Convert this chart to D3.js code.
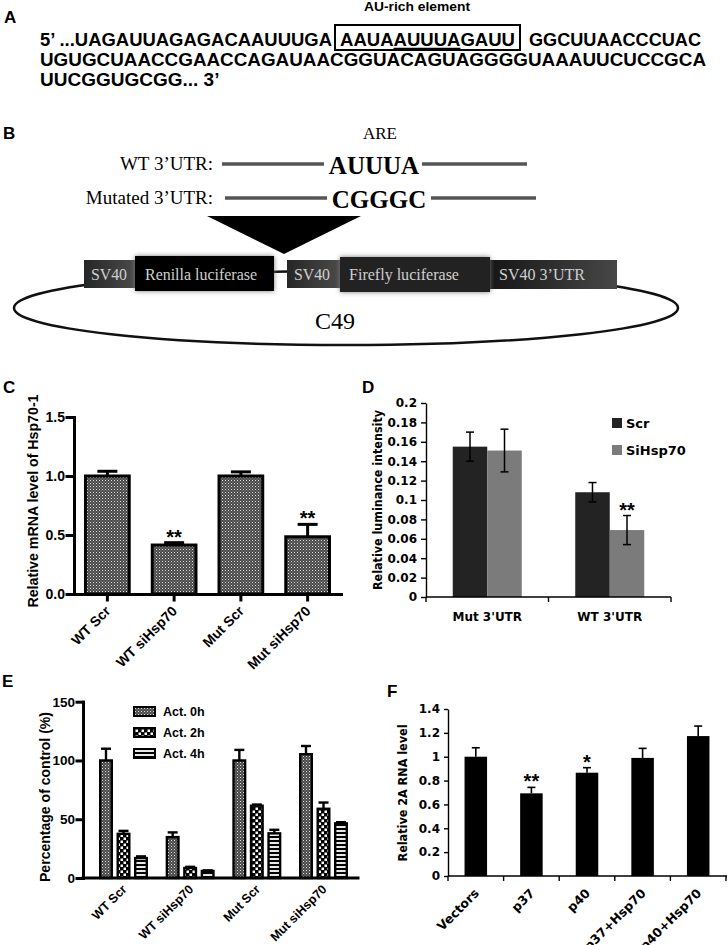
<!DOCTYPE html>
<html>
<head>
<meta charset="utf-8">
<script src="https://d3js.org/d3.v7.min.js"></script>
<style>
body { margin: 0; background: #fff; }
svg text { font-family: "Liberation Sans", Arial, sans-serif; fill: #000; }
.serif { font-family: "Liberation Serif", "Times New Roman", serif !important; }
.panel { font-weight: bold; font-size: 17px; }
.prism path, .prism line { stroke: #000; stroke-width: 3; stroke-linecap: square; }
.prism text { font-weight: bold; font-size: 14px; }
.excel path, .excel line { stroke: #000; stroke-width: 1.4; }
.excel text, text.xl { font-family: "DejaVu Sans", Verdana, sans-serif !important; font-weight: bold; font-size: 12px; }
</style>
</head>
<body>
<svg id="fig" width="727" height="945"></svg>
<script>
// ---- A: sequence ----
var seqRow1 = ["5\u2019 ...UAGAUUAGAGACAAUUUGA", "AAUAAUUUAGAUU", "GGCUUAACCCUAC"];
var seqRow2 = "UGUGCUAACCGAACCAGAUAACGGUACAGUAGGGGUAAAUUCUCCGCA";
var seqRow3 = "UUCGGUGCGG... 3\u2019";

// ---- B: construct ----
var constructParts = ["SV40", "Renilla luciferase", "SV40", "Firefly luciferase", "SV40 3\u2019UTR"];

// ---- C: Hsp70-1 mRNA ----
var cCategories = ["WT Scr", "WT siHsp70", "Mut Scr", "Mut siHsp70"];
var cValues = [1.0, 0.415, 1.0, 0.485];
var cErrors = [0.04, 0.02, 0.035, 0.105];
var cSig = ["", "**", "", "**"];
var cTicks = [0, 0.5, 1.0, 1.5];

// ---- D: luminance ----
var dCategories = ["Mut 3'UTR", "WT 3'UTR"];
var dSeries = ["Scr", "SiHsp70"];
var dScr = [0.155, 0.108];
var dScrErr = [0.015, 0.01];
var dSi = [0.151, 0.069];
var dSiErr = [0.022, 0.015];
var dSig = ["", "**"];
var dTicks = [0, 0.02, 0.04, 0.06, 0.08, 0.1, 0.12, 0.14, 0.16, 0.18, 0.2];

// ---- E: actinomycin ----
var eCategories = ["WT Scr", "WT siHsp70", "Mut Scr", "Mut siHsp70"];
var eSeries = ["Act. 0h", "Act. 2h", "Act. 4h"];
var e0h = [100, 34.8, 100, 105.3];
var e0hErr = [10, 4, 9, 7];
var e2h = [37.6, 8.5, 61.5, 58.9];
var e2hErr = [2.5, 1, 1, 5.3];
var e4h = [17, 6, 38, 46.5];
var e4hErr = [1.4, 0.5, 3, 1];
var eTicks = [0, 50, 100, 150];

// ---- F: 2A RNA ----
var fCategories = ["Vectors", "p37", "p40", "p37+Hsp70", "p40+Hsp70"];
var fValues = [1.0, 0.693, 0.866, 0.99, 1.173];
var fErrors = [0.075, 0.05, 0.042, 0.08, 0.084];
var fSig = ["", "**", "*", "", ""];
var fTicks = [0, 0.2, 0.4, 0.6, 0.8, 1.0, 1.2, 1.4];

var svg = d3.select("#fig");
var defs = svg.append("defs");

function pattern(id, w, h, bg, cells) {
  var p = defs.append("pattern").attr("id", id).attr("width", w).attr("height", h)
    .attr("patternUnits", "userSpaceOnUse");
  p.append("rect").attr("width", w).attr("height", h).attr("fill", bg);
  cells.forEach(function(c) {
    p.append("rect").attr("x", c[0]).attr("y", c[1]).attr("width", c[2]).attr("height", c[3]).attr("fill", c[4]);
  });
}
pattern("fine", 3, 3, "#4a4a4a", [[0, 0, 1, 1, "#e0e0e0"], [1.5, 1.5, 1, 1, "#9a9a9a"]]);
pattern("check", 6, 6, "#000", [[0.5, 0.5, 2.5, 2.5, "#fff"], [3.5, 3.5, 2.5, 2.5, "#fff"]]);
pattern("stripe", 4, 4, "#e8e8e8", [[0, 0, 4, 2, "#000"]]);

var glow = defs.append("filter").attr("id", "glow").attr("x", "-20%").attr("y", "-50%").attr("width", "140%").attr("height", "200%");
glow.append("feGaussianBlur").attr("in", "SourceAlpha").attr("stdDeviation", 2.5).attr("result", "b");
glow.append("feFlood").attr("flood-color", "#777");
glow.append("feComposite").attr("in2", "b").attr("operator", "in").attr("result", "s");
var gm = glow.append("feMerge");
gm.append("feMergeNode").attr("in", "s");
gm.append("feMergeNode").attr("in", "SourceGraphic");

function grad(id, stops) {
  var g = defs.append("linearGradient").attr("id", id);
  stops.forEach(function(s) { g.append("stop").attr("offset", s[0]).attr("stop-color", s[1]); });
}
grad("gSV", [["0%", "#262626"], ["100%", "#4a4a4a"]]);
grad("gUTR", [["0%", "#161616"], ["100%", "#474747"]]);

function panelLabel(t, x, y) {
  svg.append("text").attr("class", "panel").attr("x", x).attr("y", y).text(t);
}

// ================= A =================
var gA = svg.append("g");
panelLabel("A", 4, 23);
gA.append("text").attr("x", 417).attr("y", 11).attr("text-anchor", "middle")
  .attr("textLength", 106).attr("lengthAdjust", "spacingAndGlyphs")
  .style("font-weight", "bold").style("font-size", "12px").text("AU-rich element");
gA.append("rect").attr("x", 335).attr("y", 25).attr("width", 185).attr("height", 25)
  .attr("fill", "none").attr("stroke", "#000").attr("stroke-width", 2);
var rowLayout = [[40, 292], [340, 175], [529, 172]];
var rowNodes = seqRow1.map(function(s, i) {
  return gA.append("text").attr("x", rowLayout[i][0]).attr("y", 46)
    .attr("textLength", rowLayout[i][1]).attr("lengthAdjust", "spacingAndGlyphs")
    .style("font-weight", "bold").style("font-size", "19px").text(s).node();
});
var c0 = rowNodes[1].getExtentOfChar(4), c1 = rowNodes[1].getExtentOfChar(8);
gA.append("line").attr("x1", c0.x).attr("x2", c1.x + c1.width).attr("y1", 48.5).attr("y2", 48.5)
  .attr("stroke", "#000").attr("stroke-width", 1.5);
gA.append("text").attr("x", 40).attr("y", 66).attr("textLength", 666).attr("lengthAdjust", "spacingAndGlyphs")
  .style("font-weight", "bold").style("font-size", "19px").text(seqRow2);
gA.append("text").attr("x", 40).attr("y", 86)
  .style("font-weight", "bold").style("font-size", "19px").text(seqRow3);

// ================= B =================
var gB = svg.append("g");
panelLabel("B", 3, 139);
gB.append("text").attr("class", "serif").attr("x", 380).attr("y", 139).attr("text-anchor", "middle")
  .style("font-size", "17px").text("ARE");
var utrRows = [
  {label: "WT 3\u2019UTR:", motif: "AUUUA", y: 164, l: [222, 324], r: [422, 527], mx: 374},
  {label: "Mutated 3\u2019UTR:", motif: "CGGGC", y: 198, l: [225, 327], r: [431, 536], mx: 379}
];
utrRows.forEach(function(r) {
  gB.append("text").attr("class", "serif").attr("x", 213).attr("y", r.y + 6).attr("text-anchor", "end")
    .style("font-size", "19px").text(r.label);
  gB.append("line").attr("x1", r.l[0]).attr("x2", r.l[1]).attr("y1", r.y).attr("y2", r.y)
    .attr("stroke", "#555").attr("stroke-width", 3.5);
  gB.append("line").attr("x1", r.r[0]).attr("x2", r.r[1]).attr("y1", r.y).attr("y2", r.y)
    .attr("stroke", "#555").attr("stroke-width", 3.5);
  gB.append("text").attr("class", "serif").attr("x", r.mx).attr("y", r.y + 10).attr("text-anchor", "middle")
    .style("font-size", "25px").style("font-weight", "bold").text(r.motif);
});
gB.append("path").attr("d", "M207,216L361,216L284,254Z").attr("fill", "#000");
gB.append("ellipse").attr("cx", 346).attr("cy", 308).attr("rx", 332).attr("ry", 37)
  .attr("fill", "none").attr("stroke", "#111").attr("stroke-width", 2.5);
gB.append("text").attr("class", "serif").attr("x", 335).attr("y", 329).attr("text-anchor", "middle")
  .style("font-size", "24px").text("C49");
var boxLayout = [
  {x0: 84, x1: 135, y0: 260, y1: 288, fill: "url(#gSV)", glow: false, tx: 91, tl: 36},
  {x0: 135, x1: 274, y0: 256, y1: 291, fill: "#060606", glow: true, tx: 145, tl: 112},
  {x0: 287, x1: 340, y0: 260, y1: 288, fill: "url(#gSV)", glow: false, tx: 294, tl: 36},
  {x0: 340, x1: 490, y0: 257, y1: 292, fill: "#242424", glow: true, tx: 349, tl: 110},
  {x0: 490, x1: 617, y0: 260, y1: 289, fill: "url(#gUTR)", glow: false, tx: 499, tl: 86}
];
[0, 2, 4, 1, 3].forEach(function(i) {
  var b = boxLayout[i];
  gB.append("rect").attr("x", b.x0).attr("y", b.y0).attr("width", b.x1 - b.x0).attr("height", b.y1 - b.y0)
    .attr("fill", b.fill).attr("filter", b.glow ? "url(#glow)" : null);
});
boxLayout.forEach(function(b, i) {
  gB.append("text").attr("class", "serif").attr("x", b.tx).attr("y", 280)
    .attr("textLength", b.tl).attr("lengthAdjust", "spacingAndGlyphs")
    .style("font-size", "16px").style("fill", "#cfcfcf").text(constructParts[i]);
});

// ================= C =================
var gC = svg.append("g");
panelLabel("C", 3, 393);
var xC = d3.scaleBand().domain(cCategories).range([74, 341]).paddingInner(0.3).paddingOuter(0.15);
var yC = d3.scaleLinear().domain([0, 1.5]).range([594, 417]);
gC.selectAll("rect.bar").data(cValues).join("rect").attr("class", "bar")
  .attr("x", function(d, i) { return xC(cCategories[i]) + 1.5; })
  .attr("y", function(d) { return yC(d); })
  .attr("width", xC.bandwidth() - 3)
  .attr("height", function(d) { return yC(0) - yC(d); })
  .attr("fill", "url(#fine)").attr("stroke", "#000").attr("stroke-width", 3);
cValues.forEach(function(v, i) {
  var cx = xC(cCategories[i]) + xC.bandwidth() / 2, top = yC(v + cErrors[i]);
  gC.append("line").attr("x1", cx).attr("x2", cx).attr("y1", yC(v)).attr("y2", top).attr("stroke", "#000").attr("stroke-width", 3);
  gC.append("line").attr("x1", cx - 10).attr("x2", cx + 10).attr("y1", top).attr("y2", top).attr("stroke", "#000").attr("stroke-width", 3);
  if (cSig[i]) gC.append("text").attr("x", cx).attr("y", top + 1).attr("text-anchor", "middle")
    .style("font-weight", "bold").style("font-size", "20px").text(cSig[i]);
});
gC.append("g").attr("class", "prism").attr("transform", "translate(74,0)")
  .call(d3.axisLeft(yC).tickValues(cTicks).tickFormat(d3.format(".1f")).tickSize(7).tickPadding(2).tickSizeOuter(0));
gC.append("g").attr("class", "prism").attr("transform", "translate(0,594)")
  .call(d3.axisBottom(xC).tickSize(6).tickFormat("").tickSizeOuter(0));
gC.selectAll("text.xlab").data(cCategories).join("text").attr("class", "xlab")
  .attr("transform", function(d) { return "translate(" + (xC(d) + xC.bandwidth() / 2 + 4) + ",612) rotate(-45)"; })
  .attr("text-anchor", "end").style("font-weight", "bold").style("font-size", "14px").text(function(d) { return d; });
gC.append("text").attr("transform", "translate(38,501) rotate(-90)").attr("text-anchor", "middle")
  .attr("textLength", 213).attr("lengthAdjust", "spacingAndGlyphs")
  .style("font-weight", "bold").style("font-size", "14px").text("Relative mRNA level of Hsp70-1");

// ================= D =================
var gD = svg.append("g");
panelLabel("D", 362, 393);
var xD = d3.scaleBand().domain(dCategories).range([426, 671]);
var xDs = d3.scaleBand().domain(dSeries).range([0, xD.bandwidth()]).paddingOuter(0.775);
var yD = d3.scaleLinear().domain([0, 0.2]).range([597, 403]);
var dColors = ["#232323", "#7b7b7b"];
var dVals = [dScr, dSi], dErrs = [dScrErr, dSiErr];
dSeries.forEach(function(s, si) {
  gD.selectAll("rect.s" + si).data(dVals[si]).join("rect").attr("class", "s" + si)
    .attr("x", function(d, i) { return xD(dCategories[i]) + xDs(s); })
    .attr("y", function(d) { return yD(d); })
    .attr("width", xDs.bandwidth())
    .attr("height", function(d) { return yD(0) - yD(d); })
    .attr("fill", dColors[si]);
});
dSeries.forEach(function(s, si) {
  dVals[si].forEach(function(v, i) {
    var cx = xD(dCategories[i]) + xDs(s) + xDs.bandwidth() / 2;
    var hi = yD(v + dErrs[si][i]), lo = yD(v - dErrs[si][i]);
    gD.append("line").attr("x1", cx).attr("x2", cx).attr("y1", lo).attr("y2", hi).attr("stroke", "#000").attr("stroke-width", 1.5);
    [hi, lo].forEach(function(yy) {
      gD.append("line").attr("x1", cx - 4).attr("x2", cx + 4).attr("y1", yy).attr("y2", yy).attr("stroke", "#000").attr("stroke-width", 1.5);
    });
    if (si === 1 && dSig[i]) gD.append("text").attr("x", cx).attr("y", hi + 1).attr("text-anchor", "middle")
      .style("font-weight", "bold").style("font-size", "20px").text(dSig[i]);
  });
});
gD.append("g").attr("class", "excel").attr("transform", "translate(426,0)")
  .call(d3.axisLeft(yD).tickValues(dTicks).tickFormat(function(d) { return String(+d.toFixed(2)); })
    .tickSize(5).tickPadding(4).tickSizeOuter(0));
var gDx = gD.append("g").attr("class", "excel");
gDx.append("line").attr("x1", 426).attr("x2", 671).attr("y1", 597).attr("y2", 597);
gDx.selectAll("line.tk").data(dCategories.map(function(c) { return xD(c); }).concat([xD.range()[1]]))
  .join("line").attr("class", "tk").attr("x1", function(d) { return d; }).attr("x2", function(d) { return d; })
  .attr("y1", 597).attr("y2", 602);
gD.selectAll("text.xlab").data(dCategories).join("text").attr("class", "xl")
  .attr("x", function(d) { return xD(d) + xD.bandwidth() / 2; }).attr("y", 621).attr("text-anchor", "middle")
  .text(function(d) { return d; });
gD.append("text").attr("class", "xl").attr("transform", "translate(382,500) rotate(-90)").attr("text-anchor", "middle")
  .attr("textLength", 180).attr("lengthAdjust", "spacingAndGlyphs").style("font-size", "13px").text("Relative luminance intensity");
dSeries.forEach(function(s, si) {
  gD.append("rect").attr("x", 612).attr("y", 418 + si * 27).attr("width", 10).attr("height", 10).attr("fill", dColors[si]);
  gD.append("text").attr("class", "xl").attr("x", 626).attr("y", 427.5 + si * 27).style("font-size", "13px").text(s);
});

// ================= E =================
var gE = svg.append("g");
panelLabel("E", 2, 687);
var xE = d3.scaleBand().domain(eCategories).range([99, 348]).paddingInner(0.265);
var xEs = d3.scaleBand().domain(eSeries).range([0, xE.bandwidth()]).paddingInner(0.2);
var yE = d3.scaleLinear().domain([0, 150]).range([878, 701.7]);
var eVals = [e0h, e2h, e4h], eErrs = [e0hErr, e2hErr, e4hErr];
var eFills = ["url(#fine)", "url(#check)", "url(#stripe)"];
eSeries.forEach(function(s, si) {
  gE.selectAll("rect.s" + si).data(eVals[si]).join("rect").attr("class", "s" + si)
    .attr("x", function(d, i) { return xE(eCategories[i]) + xEs(s) + 1.2; })
    .attr("y", function(d) { return yE(d); })
    .attr("width", xEs.bandwidth() - 2.4)
    .attr("height", function(d) { return yE(0) - yE(d); })
    .attr("fill", eFills[si]).attr("stroke", "#000").attr("stroke-width", 2.4);
  eVals[si].forEach(function(v, i) {
    var cx = xE(eCategories[i]) + xEs(s) + xEs.bandwidth() / 2, top = yE(v + eErrs[si][i]);
    gE.append("line").attr("x1", cx).attr("x2", cx).attr("y1", yE(v)).attr("y2", top).attr("stroke", "#000").attr("stroke-width", 2.4);
    gE.append("line").attr("x1", cx - 5).attr("x2", cx + 5).attr("y1", top).attr("y2", top).attr("stroke", "#000").attr("stroke-width", 2.4);
  });
});
gE.append("g").attr("class", "prism").attr("transform", "translate(83,0)")
  .call(d3.axisLeft(yE).tickValues(eTicks).tickSize(6).tickPadding(2).tickSizeOuter(0))
  .selectAll("text").style("font-size", "13.5px");
gE.append("g").attr("class", "prism").append("line").attr("x1", 83).attr("x2", 358).attr("y1", 878).attr("y2", 878);
gE.selectAll("text.xlab").data(eCategories).join("text").attr("class", "xlab")
  .attr("transform", function(d) { return "translate(" + (xE(d) + xE.bandwidth() / 2 + 4) + ",890) rotate(-45)"; })
  .attr("text-anchor", "end").style("font-weight", "bold").style("font-size", "12.5px").text(function(d) { return d; });
gE.append("text").attr("transform", "translate(50,797) rotate(-90)").attr("text-anchor", "middle")
  .attr("textLength", 170).attr("lengthAdjust", "spacingAndGlyphs")
  .style("font-weight", "bold").style("font-size", "14px").text("Percentage of control (%)");
eSeries.forEach(function(s, si) {
  gE.append("rect").attr("x", 134).attr("y", 707 + si * 21).attr("width", 21).attr("height", 9)
    .attr("fill", eFills[si]).attr("stroke", "#000").attr("stroke-width", 2);
  gE.append("text").attr("x", 163).attr("y", 716 + si * 21).style("font-weight", "bold").style("font-size", "12.5px").text(s);
});

// ================= F =================
var gF = svg.append("g");
panelLabel("F", 387, 697);
var xF = d3.scaleBand().domain(fCategories).range([448, 726]).paddingInner(0.595).paddingOuter(0.2975);
var yF = d3.scaleLinear().domain([0, 1.4]).range([876, 709]);
gF.selectAll("rect.bar").data(fValues).join("rect").attr("class", "bar")
  .attr("x", function(d, i) { return xF(fCategories[i]); })
  .attr("y", function(d) { return yF(d); })
  .attr("width", xF.bandwidth())
  .attr("height", function(d) { return yF(0) - yF(d); })
  .attr("fill", "#000");
fValues.forEach(function(v, i) {
  var cx = xF(fCategories[i]) + xF.bandwidth() / 2, top = yF(v + fErrors[i]);
  gF.append("line").attr("x1", cx).attr("x2", cx).attr("y1", yF(v)).attr("y2", top).attr("stroke", "#000").attr("stroke-width", 1.6);
  gF.append("line").attr("x1", cx - 4).attr("x2", cx + 4).attr("y1", top).attr("y2", top).attr("stroke", "#000").attr("stroke-width", 1.6);
  if (fSig[i]) gF.append("text").attr("x", cx).attr("y", top + 1).attr("text-anchor", "middle")
    .style("font-weight", "bold").style("font-size", "20px").text(fSig[i]);
});
gF.append("g").attr("class", "excel").attr("transform", "translate(448,0)")
  .call(d3.axisLeft(yF).tickValues(fTicks).tickFormat(function(d) { return String(+d.toFixed(1)); })
    .tickSize(4).tickPadding(4).tickSizeOuter(0));
var gFx = gF.append("g").attr("class", "excel");
gFx.append("line").attr("x1", 448).attr("x2", 727).attr("y1", 876).attr("y2", 876);
gFx.selectAll("line.tk").data(d3.range(fCategories.length + 1))
  .join("line").attr("class", "tk")
  .attr("x1", function(k) { return xF.range()[0] + k * xF.step(); })
  .attr("x2", function(k) { return xF.range()[0] + k * xF.step(); })
  .attr("y1", 876).attr("y2", 881);
gF.selectAll("text.xlab").data(fCategories).join("text").attr("class", "xl")
  .attr("transform", function(d) { return "translate(" + (xF(d) + xF.bandwidth() / 2 + 4) + ",894) rotate(-45)"; })
  .attr("text-anchor", "end").style("font-size", "12.5px").text(function(d) { return d; });
gF.append("text").attr("class", "xl").attr("transform", "translate(407,793) rotate(-90)").attr("text-anchor", "middle")
  .attr("textLength", 137).attr("lengthAdjust", "spacingAndGlyphs").style("font-size", "13px").text("Relative 2A RNA level");
</script>
</body>
</html>
